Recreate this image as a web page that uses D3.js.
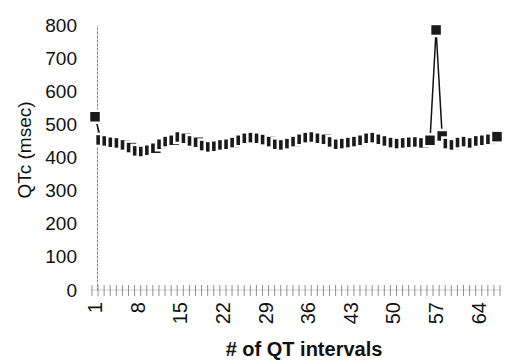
<!DOCTYPE html>
<html>
<head>
<meta charset="utf-8">
<script src="https://cdn.jsdelivr.net/npm/d3@7"></script>
<style>
  html, body { margin: 0; padding: 0; background: #fff; }
  svg { display: block; font-family: "Liberation Sans", Arial, sans-serif; }
</style>
</head>
<body>
<svg id="chart" width="512" height="363"></svg>
<script>
// QTc per consecutive QT interval
const intervals = d3.range(1, 68);
const qtc = [
  523, 453, 450, 446, 444, 438, 430, 420, 418, 422,
  428, 440, 448, 452, 462, 458, 450, 446, 436, 432,
  434, 438, 440, 445, 452, 458, 460, 458, 454, 448,
  440, 438, 442, 448, 455, 460, 462, 458, 455, 447,
  440, 442, 445, 448, 452, 458, 460, 455, 450, 445,
  442, 444, 446, 447, 444, 452, 785, 465, 442, 438,
  445, 448, 444, 450, 452, 455, 463
];
const yTicks = [0, 100, 200, 300, 400, 500, 600, 700, 800];
const xTickLabels = [1, 8, 15, 22, 29, 36, 43, 50, 57, 64];

const svg = d3.select("#chart");

const x = d3.scalePoint().domain(intervals).range([95, 497]);
const y = d3.scaleLinear().domain([0, 800]).range([290, 25]);
const step = x.step();

// y axis: thin grey rule, labels only
const yAxis = svg.append("g")
  .attr("transform", "translate(97,0)")
  .call(d3.axisLeft(y).tickValues(yTicks).tickSize(0).tickPadding(20));
yAxis.select(".domain").attr("stroke", "#888").attr("stroke-dasharray", "3,1");
yAxis.selectAll("text")
  .attr("font-size", 19)
  .attr("font-family", "Liberation Sans, Arial, sans-serif")
  .attr("fill", "#111");

// x axis: faint baseline with tick marks between categories
const xAxisG = svg.append("g");
xAxisG.append("line")
  .attr("x1", x(1) - step / 2).attr("x2", x(67) + step / 2)
  .attr("y1", y(0)).attr("y2", y(0))
  .attr("stroke", "#ccc");
xAxisG.selectAll("line.tick")
  .data(d3.range(1, 69))
  .join("line")
  .attr("class", "tick")
  .attr("x1", d => x(1) + (d - 1.5) * step)
  .attr("x2", d => x(1) + (d - 1.5) * step)
  .attr("y1", y(0) - 5).attr("y2", y(0) + 6)
  .attr("stroke", "#777").attr("stroke-width", 0.8);

xAxisG.selectAll("text.xl")
  .data(xTickLabels)
  .join("text")
  .attr("class", "xl")
  .attr("transform", d => `translate(${x(d) + 7},302) rotate(-90)`)
  .attr("text-anchor", "end")
  .attr("font-size", 20)
  .attr("fill", "#111")
  .text(d => d);

// axis titles
svg.append("text")
  .attr("x", 304).attr("y", 356)
  .attr("text-anchor", "middle")
  .attr("font-size", 20)
  .attr("font-weight", "bold")
  .attr("fill", "#111")
  .text("# of QT intervals");

svg.append("text")
  .attr("transform", "translate(31,150) rotate(-90)")
  .attr("text-anchor", "middle")
  .attr("font-size", 19)
  .attr("fill", "#111")
  .text("QTc (msec)");

// series line
const pts = intervals.map((d, i) => [d, qtc[i]]);
svg.append("path")
  .datum(pts)
  .attr("fill", "none")
  .attr("stroke", "#111")
  .attr("stroke-width", 1.5)
  .attr("d", d3.line().x(d => x(d[0])).y(d => y(d[1])));

// square markers, each drawn over the previous one
const m = 12;
svg.append("g").selectAll("rect")
  .data(pts)
  .join("rect")
  .attr("x", d => x(d[0]) - m / 2)
  .attr("y", d => y(d[1]) - m / 2)
  .attr("width", m).attr("height", m)
  .attr("fill", "#1a1a1a")
  .attr("stroke", "#fff")
  .attr("stroke-width", 2.5);
</script>
</body>
</html>
